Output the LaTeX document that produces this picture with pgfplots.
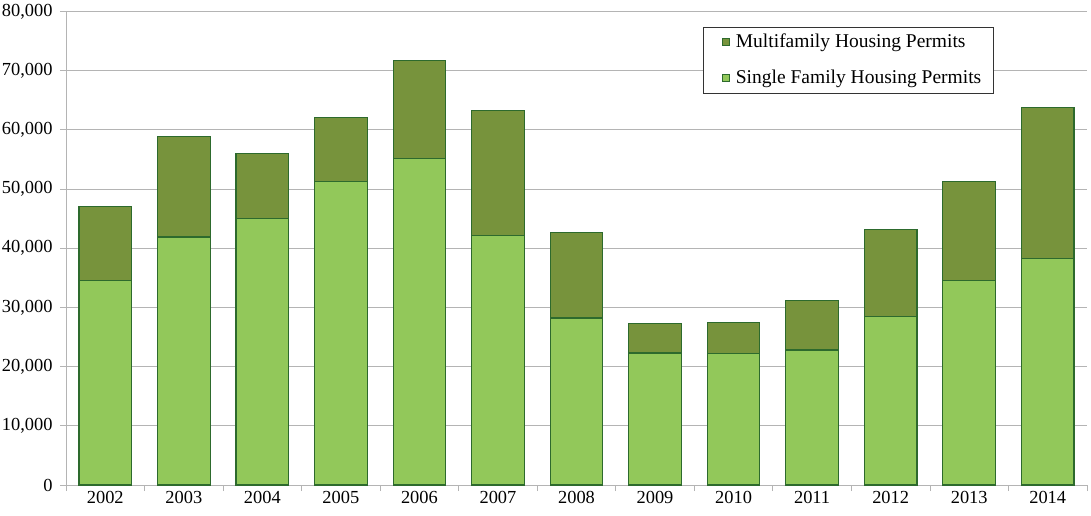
\documentclass[border=0pt]{standalone}
\usepackage{fontspec}
\setmainfont{Liberation Serif}
\usepackage{pgfplots}
\pgfplotsset{compat=1.18}

\definecolor{multi}{HTML}{77933C}
\definecolor{single}{HTML}{92C85A}
\definecolor{edge}{HTML}{2D6A2D}
\definecolor{gridgray}{HTML}{B4B4B4}

\pgfplotstableread{
x year single multi
0  2002 34.6 12.4
1  2003 41.9 16.9
2  2004 45.0 11.0
3  2005 51.2 10.8
4  2006 55.1 16.6
5  2007 42.2 21.1
6  2008 28.2 14.5
7  2009 22.3 5.0
8  2010 22.2 5.2
9  2011 22.8 8.4
10 2012 28.5 14.7
11 2013 34.5 16.8
12 2014 38.3 25.4
}\permits

\begin{document}
\begin{tikzpicture}
\begin{axis}[
    scale only axis,
    width=510.5pt, height=236.85pt,
    ybar stacked,
    bar width=0.67,
    xmin=-0.5, xmax=12.5,
    ymin=0, ymax=80,
    xtick={0,...,12},
    xticklabels={2002,2003,2004,2005,2006,2007,2008,2009,2010,2011,2012,2013,2014},
    minor xtick={-0.5,0.5,...,12.5},
    major x tick style={draw=none},
    minor x tick style={draw=gridgray, thin},
    minor tick length=3pt,
    ytick={0,10,...,80},
    yticklabels={0,{10,000},{20,000},{30,000},{40,000},{50,000},{60,000},{70,000},{80,000}},
    major tick length=3pt,
    tick align=outside,
    y tick style={draw=gridgray, thin},
    axis x line*=bottom,
    axis y line*=left,
    axis line style={draw=gridgray, thin, -},
    ymajorgrids,
    grid style={draw=gridgray, thin},
    tick label style={font=\fontsize{9.2}{11}\selectfont},
    /pgf/number format/assume math mode=true,
    yticklabel style={inner xsep=0pt, xshift=-3.5pt},
    xticklabel style={yshift=3.6pt},
    legend style={
        at={(0.624,0.9675)}, anchor=north west,
        draw=black!80, thin,
        font=\fontsize{9.75}{12}\selectfont,
        inner xsep=4pt, inner ysep=1.5pt,
        row sep=5.5pt,
        cells={anchor=west},
    },
    reverse legend,
    legend image code/.code={
        \path[draw=none, fill=none] (0pt,0pt) -- (10.2pt,0pt);
        \draw[#1, draw=edge, line width=0.5pt] (5.5pt,-1.75pt) rectangle (9pt,1.75pt);},
]
\addplot[fill=single, draw=edge, line width=0.6pt] table[x=x, y=single] {\permits};
\addlegendentry{Single Family Housing Permits}
\addplot[fill=multi, draw=edge, line width=0.6pt] table[x=x, y=multi] {\permits};
\addlegendentry{Multifamily Housing Permits}
\end{axis}
\pgfresetboundingbox
\path[use as bounding box] (-33pt,-15pt) rectangle (512.5pt,242.5pt);
\end{tikzpicture}
\end{document}
